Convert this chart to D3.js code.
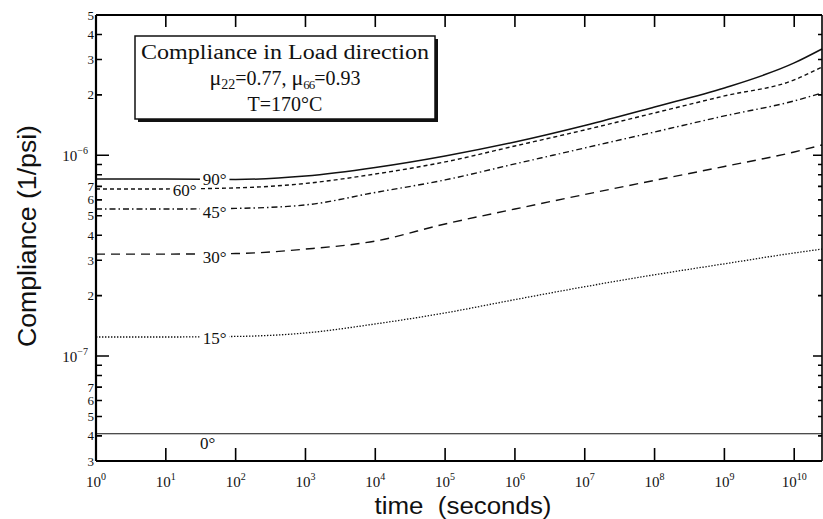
<!DOCTYPE html>
<html><head><meta charset="utf-8">
<script src="https://cdn.jsdelivr.net/npm/d3@7"></script>
<style>body{margin:0;background:#fff}svg{display:block}</style>
</head><body>
<svg id="c" width="823" height="519"></svg>
<script>
// ---- data ----
const times = [1, 1e1, 1e2, 1e3, 1e4, 1e5, 1e6, 1e7, 1e8, 1e9, 1e10, 2.5e10];
const c90 = [7.63e-7, 7.63e-7, 7.58e-7, 7.89e-7, 8.70e-7, 9.93e-7, 1.166e-6, 1.409e-6, 1.741e-6, 2.166e-6, 2.885e-6, 3.387e-6];
const c60 = [6.80e-7, 6.80e-7, 6.88e-7, 7.24e-7, 8.07e-7, 9.27e-7, 1.113e-6, 1.338e-6, 1.626e-6, 1.976e-6, 2.374e-6, 2.756e-6];
const c45 = [5.40e-7, 5.40e-7, 5.44e-7, 5.66e-7, 6.53e-7, 7.54e-7, 9.06e-7, 1.088e-6, 1.307e-6, 1.571e-6, 1.866e-6, 2.045e-6];
const c30 = [3.22e-7, 3.22e-7, 3.24e-7, 3.41e-7, 3.74e-7, 4.55e-7, 5.40e-7, 6.38e-7, 7.50e-7, 8.80e-7, 1.039e-6, 1.126e-6];
const c15 = [1.244e-7, 1.244e-7, 1.252e-7, 1.303e-7, 1.445e-7, 1.640e-7, 1.910e-7, 2.215e-7, 2.540e-7, 2.880e-7, 3.262e-7, 3.41e-7];
const c0  = [4.1e-8, 4.1e-8, 4.1e-8, 4.1e-8, 4.1e-8, 4.1e-8, 4.1e-8, 4.1e-8, 4.1e-8, 4.1e-8, 4.1e-8, 4.1e-8];
const seriesNames = ["90°", "60°", "45°", "30°", "15°", "0°"];
const xTickExps = [0, 1, 2, 3, 4, 5, 6, 7, 8, 9, 10];
const yTickValues = [3e-8,4e-8,5e-8,6e-8,7e-8,8e-8,9e-8,1e-7,2e-7,3e-7,4e-7,5e-7,6e-7,7e-7,8e-7,9e-7,1e-6,2e-6,3e-6,4e-6,5e-6];
const yLabelDigits = {"3e-8":"3","4e-8":"4","5e-8":"5","6e-8":"6","7e-8":"7","2e-7":"2","3e-7":"3","4e-7":"4","5e-7":"5","6e-7":"6","7e-7":"7","2e-6":"2","3e-6":"3","4e-6":"4","5e-6":"5"};
const yMajor = {"1e-7":"\u22127","1e-6":"\u22126"};
const legendLines = ["Compliance in Load direction", "μ22=0.77, μ66=0.93", "T=170°C"];
const xTitle = "time  (seconds)";
const yTitle = "Compliance (1/psi)";

// ---- drawing ----
const svg = d3.select("#c");
const serif = "'Liberation Serif','Times New Roman',serif";
const sans = "'Liberation Sans',Arial,Helvetica,sans-serif";
const L = 96, R = 822, T = 15, B = 461;
const x = d3.scaleLog().domain([1, 2.5e10]).range([L, R]);
const y = d3.scaleLog().domain([3e-8, 5e-6]).range([B, T]);
const key = d => { const s = d.toExponential(); const parts = s.split("e"); return (+parts[0])+"e"+(+parts[1]); };
const decades = xTickExps.map(e=>Math.pow(10,e));

svg.append("rect").attr("width",823).attr("height",519).attr("fill","#fff");

const allSeries = [c90, c60, c45, c30, c15, c0];
const styles = [
  {dash:null, w:1.5},
  {dash:"4,3", w:1.4},
  {dash:"6,3,1.5,3", w:1.4},
  {dash:"9,6", w:1.4},
  {dash:"1.4,1.6", w:1.3},
  {dash:null, w:1.2}
];
const lineGen = d3.line().x(d=>x(d[0])).y(d=>y(d[1])).curve(d3.curveMonotoneX);
const gLines = svg.append("g");
allSeries.forEach((vals,i)=>{
  gLines.append("path")
    .datum(times.map((t,j)=>[t, vals[j]]))
    .attr("d", lineGen)
    .attr("fill","none").attr("stroke","#111")
    .attr("stroke-width", styles[i].w)
    .attr("stroke-dasharray", styles[i].dash);
});

// curve labels (white-backed)
const labelPos = [
  {t: Math.pow(10,1.7), dy: 0},
  {t: Math.pow(10,1.27), dy: 1.5},
  {t: Math.pow(10,1.7), dy: 3},
  {t: Math.pow(10,1.7), dy: 3},
  {t: Math.pow(10,1.7), dy: 1},
  {t: Math.pow(10,1.6), dy: 9}
];
seriesNames.forEach((nm,i)=>{
  const cx = x(labelPos[i].t), cy = y(allSeries[i][0]) + labelPos[i].dy;
  const w = nm.length * 8.5;
  svg.append("rect").attr("x",cx-w/2-2).attr("y",cy-6).attr("width",w+4).attr("height",12).attr("fill","#fff");
  svg.append("text").attr("x",cx).attr("y",cy+6).attr("text-anchor","middle")
    .attr("font-family",serif).attr("font-size",17).attr("fill","#111").text(nm);
});

// x tick labels
decades.forEach((v,i)=>{
  const t = svg.append("text").attr("x",x(v)).attr("y",487).attr("text-anchor","middle")
    .attr("font-family",serif).attr("font-size",15).attr("fill","#111");
  t.append("tspan").text("10");
  t.append("tspan").attr("font-size",10).attr("dy",-7).text(String(xTickExps[i]));
});

// y tick labels
yTickValues.forEach(v=>{
  const k = key(v);
  if (yLabelDigits[k]) {
    svg.append("text").attr("x",94).attr("y",y(v)+4.5).attr("text-anchor","end")
      .attr("font-family",serif).attr("font-size",13).attr("fill","#111").text(yLabelDigits[k]);
  } else if (yMajor[k]) {
    const t = svg.append("text").attr("x",88).attr("y",y(v)+6).attr("text-anchor","end")
      .attr("font-family",serif).attr("font-size",15).attr("fill","#111");
    t.append("tspan").text("10");
    t.append("tspan").attr("font-size",10).attr("dy",-7).text(yMajor[k]);
  }
});

// legend box
const bx=135, by=36, bw=300, bh=83;
svg.append("rect").attr("x",bx+3).attr("y",by+3).attr("width",bw).attr("height",bh).attr("fill","#111");
svg.append("rect").attr("x",bx).attr("y",by).attr("width",bw).attr("height",bh).attr("fill","#fff").attr("stroke","#111").attr("stroke-width",1.5);
const lcx = bx + bw/2;
svg.append("text").attr("x",lcx).attr("y",by+23).attr("text-anchor","middle")
  .attr("font-family",serif).attr("font-size",20).attr("fill","#111")
  .attr("textLength",288).attr("lengthAdjust","spacingAndGlyphs").text(legendLines[0]);
const l2 = svg.append("text").attr("x",lcx).attr("y",by+49).attr("text-anchor","middle")
  .attr("font-family",serif).attr("font-size",20).attr("fill","#111");
const mm = legendLines[1].match(/^(μ)(\d+)(=[^,]+, )(μ)(\d+)(=.*)$/);
l2.append("tspan").attr("font-size",22).text(mm[1]);
l2.append("tspan").attr("font-size",14).attr("dy",4).text(mm[2]);
l2.append("tspan").attr("dy",-4).text(mm[3]);
l2.append("tspan").attr("font-size",22).text(mm[4]);
l2.append("tspan").attr("font-size",13).attr("dy",4).attr("letter-spacing",-1).text(mm[5]);
l2.append("tspan").attr("dy",-4).text(mm[6]);
svg.append("text").attr("x",lcx).attr("y",by+75).attr("text-anchor","middle")
  .attr("font-family",serif).attr("font-size",20).attr("fill","#111").text(legendLines[2]);

// axis titles
svg.append("text").attr("x",463).attr("y",514).attr("text-anchor","middle")
  .attr("font-family",sans).attr("font-size",23).attr("fill","#111")
  .attr("textLength",177).attr("lengthAdjust","spacingAndGlyphs").text(xTitle.replace("  "," \u00a0"));
svg.append("text").attr("transform","translate(36,236) rotate(-90)").attr("text-anchor","middle")
  .attr("font-family",sans).attr("font-size",25).attr("fill","#111")
  .attr("textLength",222).attr("lengthAdjust","spacingAndGlyphs").text(yTitle);

// frame
svg.append("line").attr("x1",L).attr("x2",L).attr("y1",T).attr("y2",B).attr("stroke","#000").attr("stroke-width",2.2);
svg.append("line").attr("x1",L).attr("x2",R).attr("y1",B).attr("y2",B).attr("stroke","#000").attr("stroke-width",2.2);
svg.append("line").attr("x1",L).attr("x2",R).attr("y1",T).attr("y2",T).attr("stroke","#000").attr("stroke-width",2);
svg.append("line").attr("x1",R).attr("x2",R).attr("y1",T).attr("y2",B).attr("stroke","#000").attr("stroke-width",1.6);

// ticks (positions from the scales), one path
let td = "";
decades.slice(1).forEach(d=>{
  const px = x(d);
  td += `M${px},${B}V${B-13}M${px},${T}V${T+12}`;
});
yTickValues.forEach(d=>{
  const py = y(d), maj = !!yMajor[key(d)];
  td += `M${L},${py}H${L+(maj?13:6)}M${R},${py}H${R-(maj?9:4)}`;
});
svg.append("path").attr("d", td).attr("fill","none").attr("stroke","#000").attr("stroke-width",1.6);
</script>
</body></html>
